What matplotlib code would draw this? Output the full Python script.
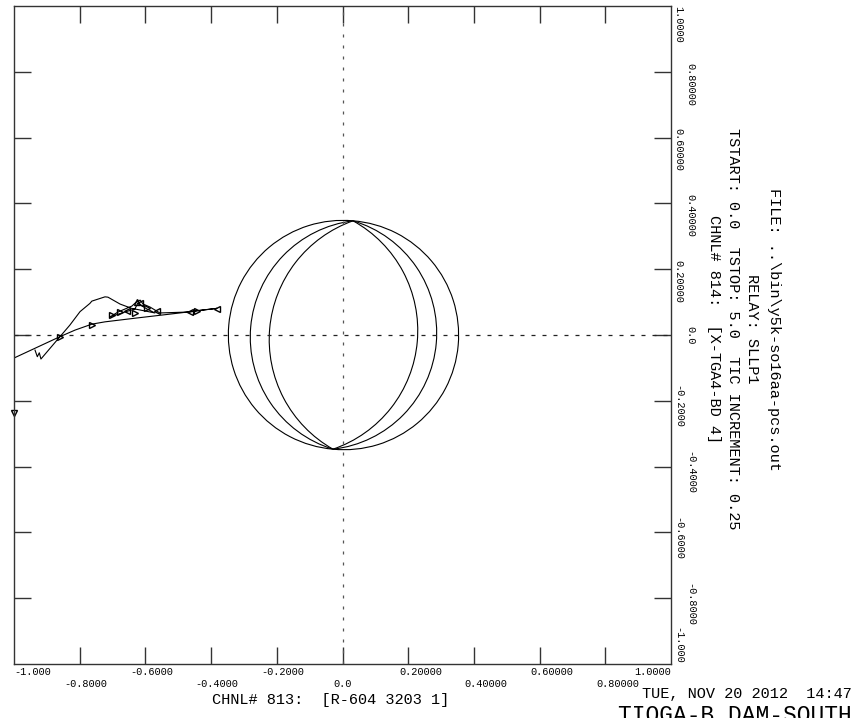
import numpy as np
import matplotlib
matplotlib.use('Agg')
import matplotlib.pyplot as plt
from matplotlib.path import Path
from matplotlib.patches import PathPatch
from matplotlib.transforms import Affine2D

plt.rcParams['font.family'] = ['Liberation Mono', 'DejaVu Sans Mono']

# tick values and labels (bottom axis / right axis)
tick_vals = [-1.0, -0.8, -0.6, -0.4, -0.2, 0.0, 0.2, 0.4, 0.6, 0.8, 1.0]
x_labels = ['-1.000', '-0.8000', '-0.6000', '-0.4000', '-0.2000', '0.0',
            '0.20000', '0.40000', '0.60000', '0.80000', '1.0000']
y_vals = [1.0, 0.8, 0.6, 0.4, 0.2, 0.0, -0.2, -0.4, -0.6, -0.8, -1.0]
y_labels = ['1.0000', '0.80000', '0.60000', '0.40000', '0.20000', '0.0',
            '-0.2000', '-0.4000', '-0.6000', '-0.8000', '-1.000']

# relay characteristic: lens arcs through two points, with their reach
lens_top = (0.032, 0.347)
lens_bot = (-0.029, -0.347)
reach_right = [0.352, 0.285, 0.227]
reach_left = [0.349, 0.282, 0.224]

# impedance trajectory
traj_x = [-1.000, -0.860, -0.814, -0.763, -0.723, -0.632, -0.495, -0.382,
          -0.443, -0.464, -0.556, -0.571, -0.586, -0.607, -0.616, -0.628,
          -0.641, -0.662, -0.683, -0.708, -0.662, -0.632, -0.623, -0.610,
          -0.595, -0.571, -0.601, -0.642, -0.677, -0.714, -0.723, -0.763,
          -0.769, -0.799, -0.830, -0.860, -0.918, -0.923, -0.929, -0.936]
traj_y = [-0.070, -0.005, 0.015, 0.033, 0.040, 0.051, 0.067, 0.081,
          0.074, 0.070, 0.067, 0.076, 0.085, 0.094, 0.106, 0.100,
          0.088, 0.079, 0.070, 0.055, 0.070, 0.079, 0.097, 0.088,
          0.079, 0.067, 0.073, 0.081, 0.094, 0.115, 0.116, 0.103,
          0.096, 0.071, 0.030, -0.005, -0.073, -0.054, -0.066, -0.046]

# time tic markers (every 0.25 s)
tic_x = [-0.860, -0.763, -0.702, -0.677, -0.656, -0.632, -0.625, -0.616,
         -0.595, -0.565, -0.464, -0.443, -0.382]
tic_y = [-0.005, 0.030, 0.061, 0.070, 0.073, 0.067, 0.100, 0.097,
         0.082, 0.073, 0.070, 0.073, 0.079]
tic_mk = ['>', '>', '>', '>', '<', '>', '^', '<', '>', '<', '<', '>', '<']
start_x, start_y = -1.0, -0.237

x_title = 'CHNL# 813:  [R-604 3203 1]'
side_lines = ['FILE: ..\\bin\\y5k-so16aa-pcs.out',
              'RELAY: SLLP1',
              'TSTART: 0.0  TSTOP: 5.0  TIC INCREMENT: 0.25',
              'CHNL# 814:  [X-TGA4-BD 4]']
stamp = 'TUE, NOV 20 2012  14:47'
station = 'TIOGA-B DAM-SOUTH'


def lens_arc(p1, p2, sag, side):
    # circular arc from p2 to p1 bulging "sag" to the right (side=1) or left (-1)
    p1, p2 = np.array(p1), np.array(p2)
    m = (p1 + p2) / 2
    v = p1 - p2
    L = np.hypot(v[0], v[1])
    c = L / 2
    u = v / L
    n = np.array([u[1], -u[0]]) * side
    R = (c ** 2 + sag ** 2) / (2 * sag)
    ctr = m + (sag - R) * n
    a_top = np.degrees(np.arctan2(p1[1] - ctr[1], p1[0] - ctr[0]))
    a_bot = np.degrees(np.arctan2(p2[1] - ctr[1], p2[0] - ctr[0]))
    if side == 1:
        t1, t2 = a_bot, a_top
    else:
        t1, t2 = a_top % 360, a_bot % 360
    if t2 < t1:
        t2 += 360
    path = Path.arc(t1, t2)
    path = Affine2D().scale(R).translate(ctr[0], ctr[1]).transform_path(path)
    return PathPatch(path, fill=False, edgecolor='black', lw=0.8)


W, H = 867, 718
fig = plt.figure(figsize=(W / 100, H / 100), dpi=100)
ax = fig.add_axes([14 / W, 54 / H, 657 / W, 658 / H])
ax.set_xlim(-1, 1)
ax.set_ylim(-1, 1)

for s in ax.spines.values():
    s.set_linewidth(1.0)
    s.set_color('#333333')

ax.set_xticks(tick_vals[1:-1])
ax.set_yticks(tick_vals[1:-1])
ax.tick_params(direction='in', length=12.2, width=1.0, color='#333333',
               top=True, right=True, labelbottom=False, labelleft=False)

ax.axhline(0, color='#222222', lw=0.9, dashes=(3.2, 5.6))
ax.axvline(0, color='#555555', lw=0.9, dashes=(2.4, 6.4))

for sag in reach_right:
    ax.add_patch(lens_arc(lens_top, lens_bot, sag, 1))
for sag in reach_left:
    ax.add_patch(lens_arc(lens_top, lens_bot, sag, -1))

ax.plot(traj_x, traj_y, color='black', lw=0.8)
for x, y, m in zip(tic_x, tic_y, tic_mk):
    ax.plot(x, y, marker=m, ms=4.5, mfc='none', mec='black', mew=1.0)
ax.plot(start_x, start_y, marker='v', ms=4.5, mfc='none', mec='black',
        mew=1.0, clip_on=False)

# tick labels, decimal point lined up with the tick
fs = 7.4
cw = 0.6 * fs
for i, (v, lab) in enumerate(zip(tick_vals, x_labels)):
    dy = -5.8 if i % 2 == 0 else -14.4
    if i == 0:
        dx, ha = 0, 'left'
    elif i == len(tick_vals) - 1:
        dx, ha = 0, 'right'
    else:
        dx, ha = -(lab.index('.') + 0.5) * cw, 'left'
    ax.annotate(lab, xy=(v, -1), xytext=(dx, dy), textcoords='offset points',
                ha=ha, va='center', fontsize=fs, annotation_clip=False)

for i, (v, lab) in enumerate(zip(y_vals, y_labels)):
    dx = 5.0 if i % 2 == 0 else 13.7
    if i == 0:
        dy, ha = 0, 'left'
    elif i == len(y_vals) - 1:
        dy, ha = 0, 'right'
    else:
        dy, ha = (lab.index('.') + 0.5) * cw, 'left'
    ax.annotate(lab, xy=(1, v), xytext=(dx, dy), textcoords='offset points',
                ha=ha, va='center', fontsize=fs, rotation=-90,
                rotation_mode='anchor', annotation_clip=False)

fig.text(331 / W, 1 - 700 / H, x_title, ha='center', va='center', fontsize=11)
for txt, xp in zip(side_lines, [774, 752, 733, 714]):
    fig.text(xp / W, 1 - 329 / H, txt, rotation=-90, rotation_mode='anchor',
             ha='center', va='center', fontsize=11)
fig.text(642 / W, 1 - 694 / H, stamp, ha='left', va='center', fontsize=11)
fig.text(618 / W, -4 / H, station, ha='left', va='baseline', fontsize=16.5)

fig.savefig('out.png', dpi=100)
